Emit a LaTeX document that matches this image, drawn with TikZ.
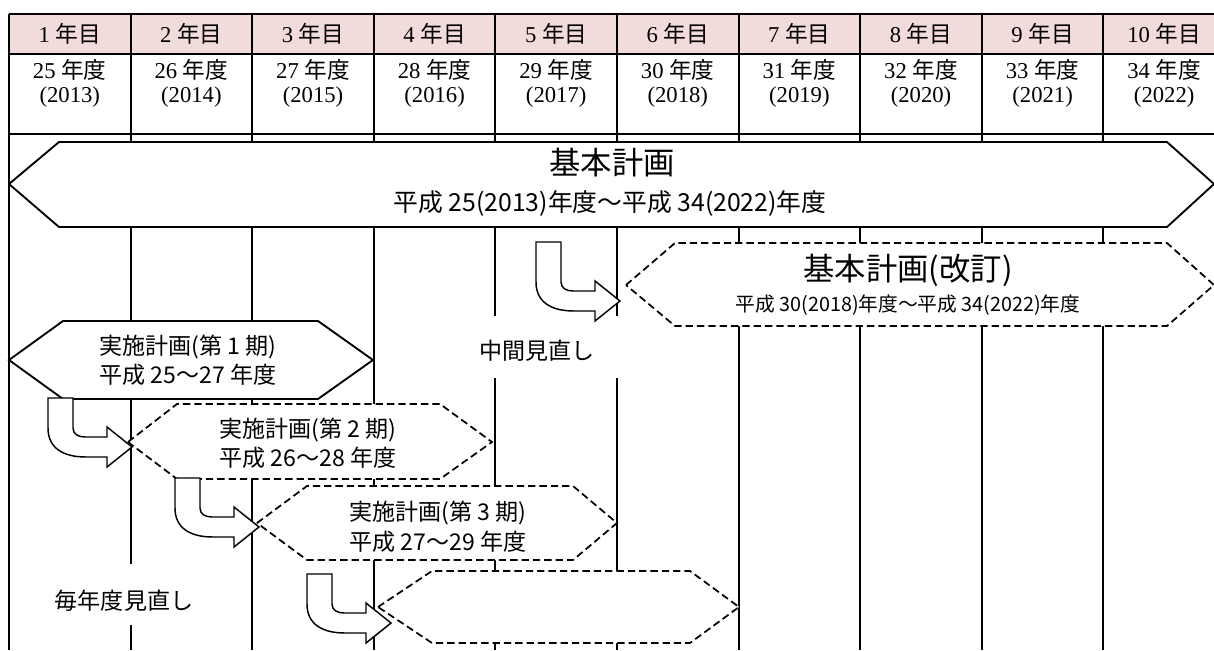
\documentclass[tikz,border=0pt]{standalone}
\usepackage{fontspec}
\setmainfont{Liberation Serif}
\newfontfamily\cjk{Noto Sans CJK JP}
\definecolor{hdpink}{HTML}{F2DCDB}
\newcommand\bentarr[3]{%
  \draw[bent, shift={(#1,#2)}] (0,0) -- (25,0) -- (25,{30+#3})
    .. controls (25,{36+#3}) and (30,{39+#3}) .. (37,{39+#3})
    -- (59,{39+#3}) -- (59,{29+#3}) -- (84,{49+#3}) -- (59,{69+#3})
    -- (59,{59+#3}) -- (38,{59+#3})
    .. controls (15,{59+#3}) and (0,{50+#3}) .. (0,{30+#3}) -- cycle;}
\begin{document}
\begin{tikzpicture}[x=0.75pt,y=-0.75pt,
  grid/.style={line width=1.4pt},
  solidhex/.style={draw, line width=1.4pt, fill=white, line join=miter},
  dashhex/.style={draw, line width=1.3pt, fill=white, dash pattern=on 5.5pt off 3pt},
  bent/.style={draw, line width=1.1pt, fill=white, line join=miter},
  hdtxt/.style={font=\fontsize{17}{20}\selectfont, inner sep=0pt},
  bodytxt/.style={font=\cjk\fontsize{17.3}{20}\selectfont, inner sep=0pt},
  bigtitle/.style={font=\cjk\fontsize{23.5}{27}\selectfont, inner sep=0pt},
  bigsub/.style={font=\cjk\fontsize{18.6}{21}\selectfont, inner sep=0pt},
  revsub/.style={font=\cjk\fontsize{14.8}{17}\selectfont, inner sep=0pt}]
\useasboundingbox (0,0) rectangle (1214,650);
% header fill
\fill[hdpink] (9,14) rectangle (1214,54);
% grid
\draw[grid] (9,14) -- (1214,14);
\draw[grid] (9,54) -- (1214,54);
\draw[grid] (9,134) -- (1214,134);
\foreach \k in {0,...,9} \draw[grid] ({9+121.6*\k},14) -- ({9+121.6*\k},650);
% header texts
\foreach \k/\yy/\gg in {1/25/2013,2/26/2014,3/27/2015,4/28/2016,5/29/2017,6/30/2018,7/31/2019,8/32/2020,9/33/2021,10/34/2022}{
  \node[hdtxt] (h\k) at ({9+121.6*(\k-0.5)},34) {\k\ {\cjk 年目}};
  \node[hdtxt] (f\k) at ({9+121.6*(\k-0.5)},70) {\yy\ {\cjk 年度}};
  \node[hdtxt] (g\k) at ({9+121.6*(\k-0.5)},97) {(\gg)};
}
% white boxes behind annotations
\fill[white] (472,316) rectangle (628,378);
\fill[white] (40,564) rectangle (215,625);
% big plan
\draw[solidhex] (9,184) -- (59,142) -- (1167,142) -- (1214,184) -- (1167,227) -- (59,227) -- cycle;
\node[bigtitle] (bt) at (612,163) {基本計画};
\node[bigsub] (bs) at (610,203) {平成 25(2013)年度～平成 34(2022)年度};
% revised plan
\draw[dashhex] (626,285) -- (675,243) -- (1167,243) -- (1214,285) -- (1167,326) -- (675,326) -- cycle;
\node[bigtitle] (rt) at (908,270) {基本計画(改訂)};
\node[revsub] (rs) at (908,305) {平成 30(2018)年度～平成 34(2022)年度};
% implementation plans
\draw[solidhex] (9,360) -- (63,321) -- (318,321) -- (373,360) -- (318,399) -- (63,399) -- cycle;
\node[bodytxt] (p1a) at (188,347) {実施計画(第 1 期)};
\node[bodytxt] (p1b) at (188,375) {平成 25～27 年度};
\draw[dashhex] (128,442) -- (177,404) -- (440,404) -- (492,442) -- (440,479) -- (177,479) -- cycle;
\node[bodytxt] (p2a) at (308,430) {実施計画(第 2 期)};
\node[bodytxt] (p2b) at (308,458) {平成 26～28 年度};
\draw[dashhex] (257,523) -- (307,486) -- (573,486) -- (617,523) -- (573,560) -- (307,560) -- cycle;
\node[bodytxt] (p3a) at (438,513) {実施計画(第 3 期)};
\node[bodytxt] (p3b) at (438,542) {平成 27～29 年度};
\draw[dashhex] (378,607) -- (432,571) -- (690,571) -- (739,607) -- (690,643) -- (432,643) -- cycle;
% bent arrows
\bentarr{536}{242}{10}
\bentarr{48}{398}{0}
\bentarr{175}{478}{0}
\bentarr{307}{574}{0}
% annotations
\node[bodytxt] (mid) at (537,351) {中間見直し};
\node[bodytxt] (ann) at (124,601) {毎年度見直し};
\end{tikzpicture}
\end{document}
